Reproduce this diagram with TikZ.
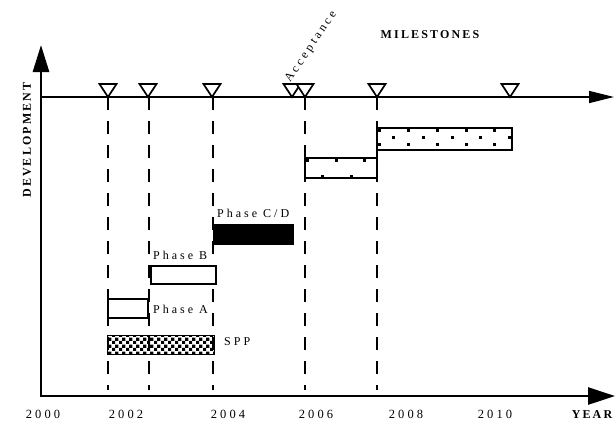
\documentclass[tikz,border=0pt]{standalone}
\usepackage{fontspec}
\setmainfont{Liberation Serif}
\newfontfamily\spc[LetterSpace=25]{Liberation Serif}
\newfontfamily\spcb[LetterSpace=18]{Liberation Serif}
\usetikzlibrary{arrows.meta,patterns}

\pgfdeclarepatternformonly{finecheck}{\pgfqpoint{0pt}{0pt}}{\pgfqpoint{6.6pt}{6.6pt}}{\pgfqpoint{6.6pt}{6.6pt}}{%
  \pgfpathrectangle{\pgfqpoint{0pt}{0pt}}{\pgfqpoint{3.3pt}{3.3pt}}%
  \pgfpathrectangle{\pgfqpoint{3.3pt}{3.3pt}}{\pgfqpoint{3.3pt}{3.3pt}}%
  \pgfusepath{fill}}

\begin{document}
\begin{tikzpicture}[x=1pt,y=-1pt,
  lbl/.style={font=\spc\fontsize{12}{12}\selectfont, inner sep=0pt, anchor=base west},
  yearlbl/.style={font=\spc\fontsize{12.5}{12.5}\selectfont, inner sep=0pt, anchor=base},
  boldlbl/.style={font=\spcb\bfseries\fontsize{12}{12}\selectfont, inner sep=0pt},
  axisline/.style={line width=2.8pt, line join=miter},
  msline/.style={line width=1.3pt},
  mstri/.style={line width=1.7pt, fill=white, line join=miter},
  guide/.style={line width=1.4pt, dash pattern=on 13pt off 11pt},
  bar/.style={draw, inner sep=0pt, outer sep=0pt, anchor=north west, fill=white},
  dotsq/.style={fill=black},
]
\useasboundingbox (0,0) rectangle (615,423);

% axes
\coordinate (ytip) at (41,45);
\coordinate (xtip) at (615,396);
\draw[axisline, {Triangle[length=27pt,width=16pt]}-{Triangle[length=27pt,width=17pt]}] (ytip) |- (xtip);

% milestone line
\coordinate (ms0) at (41,97);
\coordinate (mstip) at (614,97);
\draw[msline, -{Triangle[length=25pt,width=12pt]}] (ms0) -- (mstip);

% milestone apex coordinates
\foreach \n/\x in {m1/108, m2/148, m3/212, m4/292, m5/305, m6/377, m7/510}{
  \coordinate (\n) at (\x,97);
}

% dashed guides
\foreach \n/\x in {g1/108, g2/149, g3/213, g5/305, g6/377}{
  \coordinate (\n top) at (\x,97);
  \coordinate (\n bot) at (\x,390);
  \draw[guide] (\n top) -- (\n bot);
}

% milestone triangles
\foreach \n in {m1,m2,m3,m4,m5,m6,m7}{
  \draw[mstri] ([xshift=-8.5pt,yshift=13pt]\n) -- ([xshift=8.5pt,yshift=13pt]\n) -- (\n) -- cycle;
}

% bars
\node[bar, pattern=finecheck, line width=1pt, minimum width=107pt, minimum height=19pt] (spp) at (107,335) {};
\node[bar, line width=1.6pt, minimum width=40pt, minimum height=19pt] (pa) at (108,299) {};
\node[bar, line width=2.2pt, minimum width=65pt, minimum height=18pt] (pb) at (151,266) {};
\node[bar, fill=black, line width=1pt, minimum width=80pt, minimum height=20pt] (pcd) at (213,224) {};
\node[bar, line width=1.4pt, minimum width=72pt, minimum height=20pt] (acc) at (305,158) {};
\node[bar, line width=1.4pt, minimum width=135pt, minimum height=22pt] (ops) at (377,128) {};

% dots inside dotted bars
\foreach \x in {379,408,437,466,494}{
  \fill[dotsq] (\x-1.5,130-1.5) rectangle +(3,3);
  \fill[dotsq] (\x-1.5,144-1.5) rectangle +(3,3);
}
\foreach \x in {393,423,452,480,509}{
  \fill[dotsq] (\x-1.5,137-1.5) rectangle +(3,3);
}
\foreach \x in {307,336,364}{
  \fill[dotsq] (\x-1.5,160-1.5) rectangle +(3,3);
}
\foreach \x in {322,351}{
  \fill[dotsq] (\x-1.5,176-1.5) rectangle +(3,3);
}

% bar labels
\node[lbl] (lcd) at (217,217) {Phase C/D};
\node[lbl] (lb) at (153,259) {Phase B};
\node[lbl] (la) at (153,313) {Phase A};
\node[lbl] (lspp) at (224,345) {SPP};

% year labels
\node[yearlbl] (y2000) at (43,418) {2000};
\node[yearlbl] (y2002) at (126,418) {2002};
\node[yearlbl] (y2004) at (228,418) {2004};
\node[yearlbl] (y2006) at (316,418) {2006};
\node[yearlbl] (y2008) at (406,418) {2008};
\node[yearlbl] (y2010) at (495,418) {2010};
\node[boldlbl, anchor=base] (year) at (592,418) {YEAR};

% titles
\node[boldlbl, rotate=90] (dev) at (27,140) {DEVELOPMENT};
\node[boldlbl] (mst) at (430,35) {MILESTONES};
\node[lbl, rotate=56] (acceptance) at (290,83) {Acceptance};
\end{tikzpicture}
\end{document}
